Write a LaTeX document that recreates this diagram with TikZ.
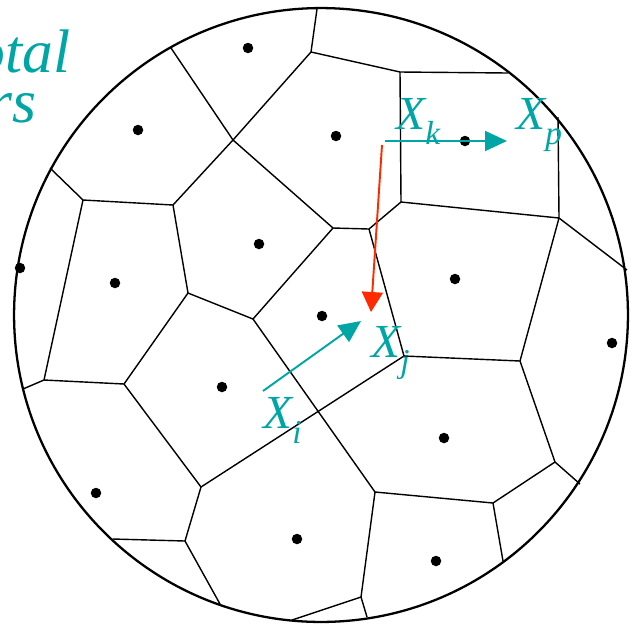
\documentclass[tikz,border=0pt]{standalone}
\usepackage{fontspec}
\setmainfont{Liberation Serif}
\usetikzlibrary{arrows.meta}
\definecolor{vorteal}{HTML}{00A5A5}
\definecolor{vorred}{HTML}{FF2A00}
\newcommand{\sublab}[2]{#1\raisebox{-9pt}{\fontsize{19}{19}\selectfont #2}}

\begin{document}
\begin{tikzpicture}[x=0.02cm,y=-0.02cm,
    vedge/.style={draw=black,line width=0.8pt},
    site/.style={circle,fill=black,inner sep=0pt,minimum size=0.21cm},
    lab/.style={text=vorteal,inner sep=0pt,font=\fontsize{27}{30}\selectfont\itshape},
    head/.style={text=vorteal,inner sep=0pt,font=\fontsize{35}{40}\selectfont\itshape},
    tealarrow/.style={vorteal,line width=1.1pt,-{Triangle[length=0.44cm,width=0.4cm]}},
    redarrow/.style={vorred,line width=1.1pt,-{Triangle[length=0.4cm,width=0.42cm]}}]
    \useasboundingbox (0,0) rectangle (631,623);
    \coordinate (O) at (321,315);
    \coordinate (A) at (311,52);   \coordinate (Ac) at (317,9);
    \coordinate (B) at (400,72);   \coordinate (C) at (508,73);
    \coordinate (D) at (401,202);  \coordinate (E) at (559,218);
    \coordinate (F) at (558,117);  \coordinate (G) at (627,270);
    \coordinate (H) at (520,361);  \coordinate (I) at (555,462);
    \coordinate (Ic) at (580,484); \coordinate (J) at (493,503);
    \coordinate (Jc) at (503,561); \coordinate (K) at (375,492);
    \coordinate (L) at (361,597);  \coordinate (Lc) at (367,617);
    \coordinate (Ld) at (292,620); \coordinate (M) at (404,356);
    \coordinate (N) at (369,229);  \coordinate (P) at (333,228);
    \coordinate (Q) at (233,140);  \coordinate (Qc) at (171,48);
    \coordinate (R) at (173,205);  \coordinate (S) at (83,200);
    \coordinate (Sc) at (50,168);  \coordinate (T) at (44,380);
    \coordinate (Tc) at (23,389);  \coordinate (U) at (124,384);
    \coordinate (V) at (188,293);  \coordinate (W) at (253,319);
    \coordinate (Y) at (201,487);  \coordinate (Z) at (185,541);
    \coordinate (Zc) at (113,539); \coordinate (Zd) at (220,604);
    \draw[vedge] (Ac)--(A)--(B)--(C);
    \draw[vedge] (A)--(Q)--(Qc);
    \draw[vedge] (B)--(D)--(E)--(F);
    \draw[vedge] (E)--(G);
    \draw[vedge] (E)--(H)--(I)--(Ic);
    \draw[vedge] (I)--(J)--(Jc);
    \draw[vedge] (J)--(K)--(L)--(Lc);
    \draw[vedge] (L)--(Ld);
    \draw[vedge] (D)--(N)--(P)--(Q)--(R)--(S)--(Sc);
    \draw[vedge] (N)--(M)--(H);
    \draw[vedge] (M)--(Y)--(Z)--(Zc);
    \draw[vedge] (Z)--(Zd);
    \draw[vedge] (P)--(W)--(K);
    \draw[vedge] (R)--(V)--(W);
    \draw[vedge] (S)--(T)--(Tc);
    \draw[vedge] (T)--(U)--(V);
    \draw[vedge] (U)--(Y);
    \draw[line width=1.3pt] (O) circle[radius=6.14cm];
    \node[site] (s1) at (248,48) {};
    \node[site] (s2) at (138,130) {};
    \node[site] (s3) at (336,136) {};
    \node[site] (s4) at (465,141) {};
    \node[site] (s5) at (259,244) {};
    \node[site] (s6) at (20,268) {};
    \node[site] (s7) at (115,283) {};
    \node[site] (s8) at (455,279) {};
    \node[site] (s9) at (322,316) {};
    \node[site] (s10) at (612,343) {};
    \node[site] (s11) at (222,387) {};
    \node[site] (s12) at (444,438) {};
    \node[site] (s13) at (96,493) {};
    \node[site] (s14) at (297,539) {};
    \node[site] (s15) at (436,561) {};
    \node[head,anchor=base east] (hd1) at (71,72) {otal};
    \node[head,anchor=base east] (hd2) at (37,122) {rs};
    \coordinate (ka) at (385,141); \coordinate (kb) at (507,141);
    \coordinate (ia) at (263,391); \coordinate (ib) at (361,321);
    \coordinate (ra) at (382,145); \coordinate (rb) at (371,312);
    \draw[tealarrow] (ka)--(kb);
    \draw[tealarrow] (ia)--(ib);
    \draw[redarrow] (ra)--(rb);
    \node[lab,anchor=base west] (Xk) at (396,129) {\sublab{X}{k}};
    \node[lab,anchor=base west] (Xp) at (516,129) {\sublab{X}{p}};
    \node[lab,anchor=base west] (Xj) at (371,357) {\sublab{X}{j}};
    \node[lab,anchor=base west] (Xi) at (263,428) {\sublab{X}{i}};
\end{tikzpicture}
\end{document}
